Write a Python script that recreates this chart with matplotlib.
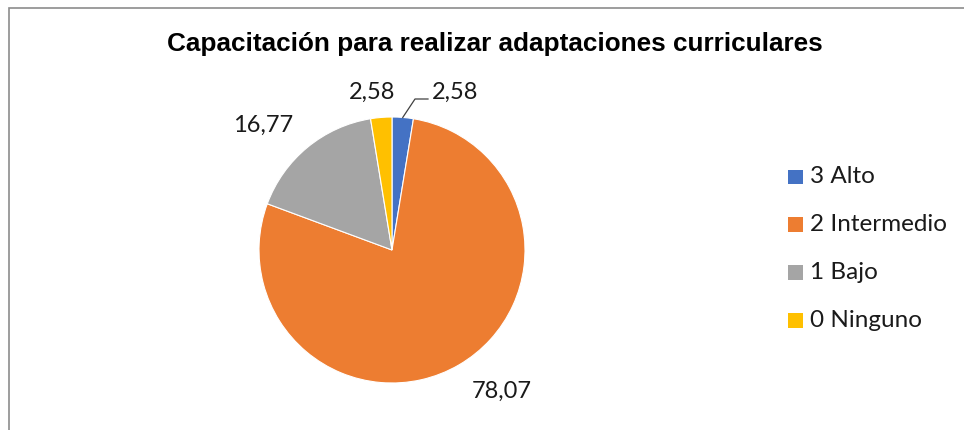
import matplotlib
matplotlib.use("Agg")
import matplotlib.pyplot as plt
from matplotlib.patches import Rectangle
import numpy as np

categories = ["3 Alto", "2 Intermedio", "1 Bajo", "0 Ninguno"]
values = [2.58, 78.07, 16.77, 2.58]
value_labels = ["2,58", "78,07", "16,77", "2,58"]
colors = ["#4472C4", "#ED7D31", "#A5A5A5", "#FFC000"]
title = "Capacitación para realizar adaptaciones curriculares"

W, H = 964, 430
fig = plt.figure(figsize=(W / 100, H / 100), dpi=100)
fig.patch.set_facecolor("white")

# frame
fig.add_artist(Rectangle((9 / W, -0.1), 2.0, 1 - 8 / H + 0.1, transform=fig.transFigure,
                         fill=False, edgecolor="#8c8c8c", linewidth=1.2))

cx, cy, r = 392, 250, 133
ax = fig.add_axes([(cx - r) / W, (H - cy - r) / H, 2 * r / W, 2 * r / H])
wedges, _ = ax.pie(values, colors=colors, startangle=90, counterclock=False, radius=1,
                   wedgeprops=dict(edgecolor="white", linewidth=0.8))
ax.set_xlim(-1, 1)
ax.set_ylim(-1, 1)
ax.set_aspect("equal")
ax.axis("off")

lab_font = dict(family=["Lato", "DejaVu Sans"], fontsize=17, color="#1a1a1a")
# label positions in pixels (x, y from top)
label_px = [(455, 92), (502, 391), (263, 125), (372, 92)]
for w, txt, (px, py) in zip(wedges, value_labels, label_px):
    ax.text((px - cx) / r, (cy - py) / r, txt, ha="center", va="center", clip_on=False, **lab_font)

# leader line for first (blue) label
w0 = wedges[0]
ang = np.deg2rad((w0.theta1 + w0.theta2) / 2)
sx, sy = np.cos(ang), np.sin(ang)
ax.plot([sx, (415 - cx) / r, (428 - cx) / r], [sy, (cy - 99) / r, (cy - 99) / r],
        color="#404040", lw=0.9, clip_on=False)

fig.text(495 / W, 1 - 44 / H, title, ha="center", va="center",
         family="Liberation Sans", fontweight="bold", fontsize=18.8, color="black")

# legend (manual)
for i, (c, lab) in enumerate(zip(colors, categories)):
    yc = 177 + i * 47.7
    fig.add_artist(Rectangle((788 / W, 1 - (yc + 7.5) / H), 15 / W, 15 / H,
                             transform=fig.transFigure, facecolor=c, edgecolor="none"))
    fig.text(810 / W, 1 - yc / H, lab, ha="left", va="center",
             family="Lato", fontsize=17.5, color="#1a1a1a")

fig.savefig("out.png", dpi=100)
